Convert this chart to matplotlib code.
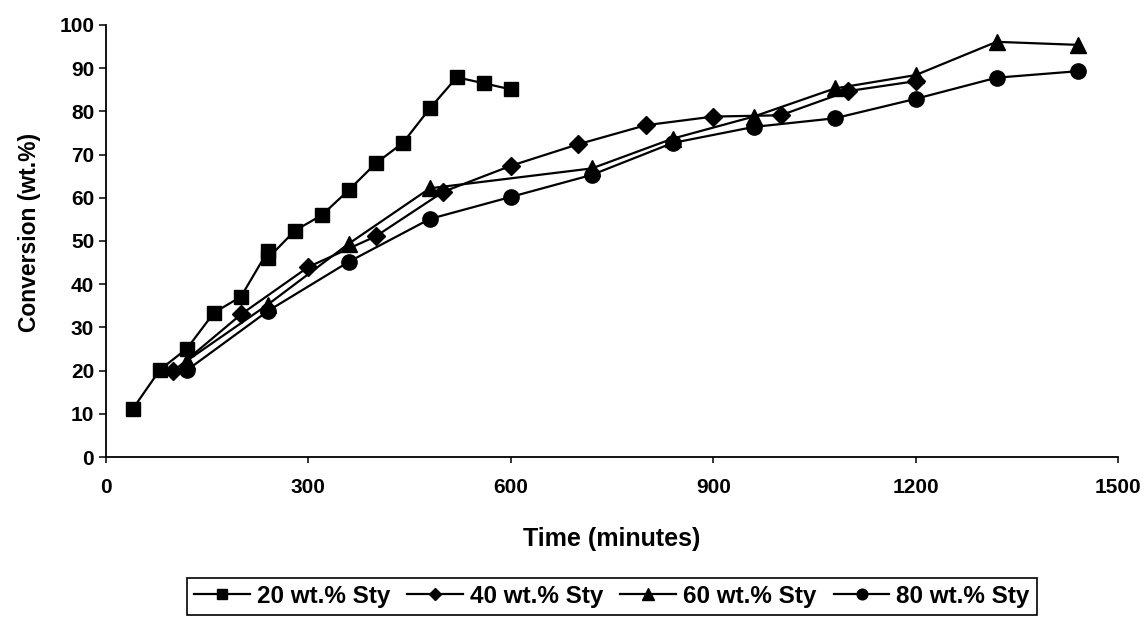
import matplotlib
matplotlib.use("Agg")
import matplotlib.pyplot as plt

plt.rcParams['font.family'] = ['Liberation Sans', 'DejaVu Sans']
plt.rcParams['font.weight'] = 'bold'

# data
t_20 = [40, 80, 120, 160, 200, 240, 240, 280, 320, 360, 400, 440, 480, 520, 560, 600]
c_20 = [11.2, 20.2, 25.1, 33.4, 37.1, 47.7, 46.0, 52.4, 56.0, 61.8, 68.0, 72.7, 80.7, 87.9, 86.5, 85.1]

t_40 = [100, 200, 300, 400, 500, 600, 700, 800, 900, 1000, 1100, 1200]
c_40 = [19.9, 33.0, 44.0, 51.1, 61.4, 67.4, 72.4, 76.8, 78.8, 79.1, 84.7, 87.0]

t_60 = [120, 240, 360, 480, 720, 840, 960, 1080, 1200, 1320, 1440]
c_60 = [22.3, 35.3, 49.4, 62.2, 66.8, 73.7, 78.8, 85.3, 88.4, 96.1, 95.4]

t_80 = [120, 240, 360, 480, 600, 720, 840, 960, 1080, 1200, 1320, 1440]
c_80 = [20.1, 33.8, 45.2, 55.1, 60.2, 65.3, 72.7, 76.4, 78.4, 82.9, 87.8, 89.3]

labels = ['20 wt.% Sty', '40 wt.% Sty', '60 wt.% Sty', '80 wt.% Sty']
x_ticks = [0, 300, 600, 900, 1200, 1500]
y_ticks = [0, 10, 20, 30, 40, 50, 60, 70, 80, 90, 100]

fig = plt.figure(figsize=(11.46, 6.2), dpi=100)
ax = fig.add_axes([0.0925, 0.2629, 0.8831, 0.6968])

series = [
    (t_20, c_20, 's', 10.5),
    (t_40, c_40, 'D', 9),
    (t_60, c_60, '^', 11.5),
    (t_80, c_80, 'o', 11),
]
handles = []
for (t, c, m, ms), lab in zip(series, labels):
    h, = ax.plot(t, c, color='black', lw=1.6, marker=m, ms=ms,
                 mfc='black', mec='black', mew=1, label=lab)
    handles.append(h)

ax.set_xlim(0, 1500)
ax.set_ylim(0, 100)
ax.set_xticks(x_ticks)
ax.set_yticks(y_ticks)
for s in ['top', 'right']:
    ax.spines[s].set_visible(False)
for s in ['left', 'bottom']:
    ax.spines[s].set_linewidth(1.3)

ax.tick_params(axis='x', direction='out', length=4, width=1.1, pad=11, labelsize=15)
ax.tick_params(axis='y', direction='out', length=5, width=1.1, pad=3.5, labelsize=15)
for lbl in ax.get_xticklabels() + ax.get_yticklabels():
    lbl.set_fontweight('bold')

ax.set_xlabel('Time (minutes)', fontsize=18, fontweight='bold')
ax.xaxis.set_label_coords(0.5, -0.162)
ax.set_ylabel('Conversion (wt.%)', fontsize=16.5, fontweight='bold')
ax.yaxis.set_label_coords(-0.064, 0.52)

leg = fig.legend(handles, labels, loc='center', bbox_to_anchor=(0.534, 0.038),
                 ncol=4, frameon=True, fancybox=False, edgecolor='black',
                 framealpha=1, prop={'size': 17.5, 'weight': 'bold'},
                 handlelength=2.3, handletextpad=0.28, columnspacing=0.7,
                 borderpad=0.3, markerscale=0.7)
leg.get_frame().set_linewidth(1.2)

fig.savefig('out.png', dpi=100)
